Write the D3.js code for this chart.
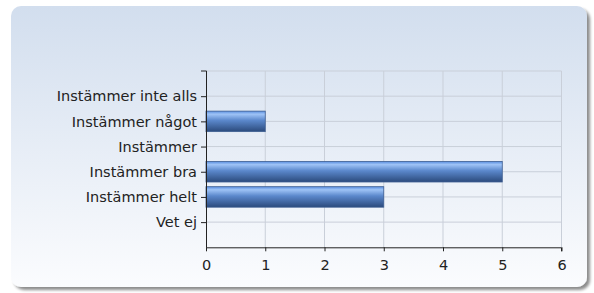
<!DOCTYPE html>
<html><head><meta charset="utf-8">
<script src="https://cdn.jsdelivr.net/npm/d3@7"></script>
<style>body{margin:0;background:#fff;}svg{display:block;}</style>
</head><body>
<script>
const categories = ["Instämmer inte alls","Instämmer något","Instämmer","Instämmer bra","Instämmer helt","Vet ej"];
const values = [0,1,0,5,3,0];
const xTicks = [0,1,2,3,4,5,6];

(function(){
const W=594,H=293;
const svg=d3.select("body").append("svg").attr("width",W).attr("height",H);
const defs=svg.append("defs");
const bg=defs.append("linearGradient").attr("id","bg").attr("x1",0).attr("y1",0).attr("x2",0).attr("y2",1);
bg.append("stop").attr("offset","0%").attr("stop-color","#d2deee");
bg.append("stop").attr("offset","100%").attr("stop-color","#fbfcfe");
const bar=defs.append("linearGradient").attr("id","bar").attr("x1",0).attr("y1",0).attr("x2",0).attr("y2",1);
bar.append("stop").attr("offset","0%").attr("stop-color","#5a8fe0");
bar.append("stop").attr("offset","15%").attr("stop-color","#9ec3f6");
bar.append("stop").attr("offset","45%").attr("stop-color","#5b88cc");
bar.append("stop").attr("offset","100%").attr("stop-color","#2b4a7c");
const sh=defs.append("filter").attr("id","sh").attr("x","-5%").attr("y","-5%").attr("width","115%").attr("height","120%");
sh.append("feGaussianBlur").attr("in","SourceAlpha").attr("stdDeviation",1.5);
sh.append("feOffset").attr("dx",3).attr("dy",3).attr("result","b");
sh.append("feComponentTransfer").append("feFuncA").attr("type","linear").attr("slope",0.45);
const m=sh.append("feMerge");m.append("feMergeNode");m.append("feMergeNode").attr("in","SourceGraphic");

svg.append("rect").attr("x",11).attr("y",6).attr("width",576).attr("height",281).attr("rx",10)
  .attr("fill","url(#bg)").attr("filter","url(#sh)");

const x=d3.scaleLinear().domain([0,6]).range([206,561.5]);
const y=d3.scalePoint().domain(categories).range([71,247.3]).padding(1);
const yTop=71,yBot=247.3;

const g=svg.append("g");
g.selectAll(".vg").data(xTicks.slice(1)).join("line")
  .attr("x1",d=>x(d)).attr("x2",d=>x(d)).attr("y1",yTop).attr("y2",yBot)
  .attr("stroke","#c9cfd9").attr("stroke-width",1);
g.selectAll(".hg").data([null,...categories]).join("line")
  .attr("x1",x(0)).attr("x2",x(6))
  .attr("y1",d=>d===null?yTop:y(d)).attr("y2",d=>d===null?yTop:y(d))
  .attr("stroke","#c9cfd9").attr("stroke-width",1);

const bh=20.5;
g.selectAll(".bar").data(categories.map((c,i)=>({c,v:values[i]})).filter(d=>d.v>0)).join("rect")
  .attr("x",x(0)).attr("y",d=>y(d.c)-bh/2).attr("width",d=>x(d.v)-x(0)).attr("height",bh)
  .attr("fill","url(#bar)").attr("stroke","#3e5f93").attr("stroke-width",0.8);

const font="DejaVu Sans, Verdana, sans-serif";
const yAxis=d3.axisLeft(y).tickSize(5).tickPadding(4);
const ya=svg.append("g").attr("transform",`translate(${x(0)},0)`).call(yAxis);
ya.select(".domain").attr("d",`M-5,${yTop}H0.5V${yBot}`).attr("stroke","#222");
ya.selectAll(".tick line").attr("stroke","#222");
ya.selectAll("text").attr("font-family",font).attr("font-size",14.5).attr("fill","#222");

const xAxis=d3.axisBottom(x).tickValues(xTicks).tickFormat(d3.format("d")).tickSize(4).tickPadding(8);
const xa=svg.append("g").attr("transform",`translate(0,${yBot})`).call(xAxis);
xa.select(".domain").attr("d",`M${x(0)},0.5H${x(6)}V4`).attr("stroke","#222");
xa.selectAll(".tick line").attr("stroke","#222");
xa.selectAll("text").attr("font-family",font).attr("font-size",14.5).attr("fill","#222");
})();
</script>
</body></html>
